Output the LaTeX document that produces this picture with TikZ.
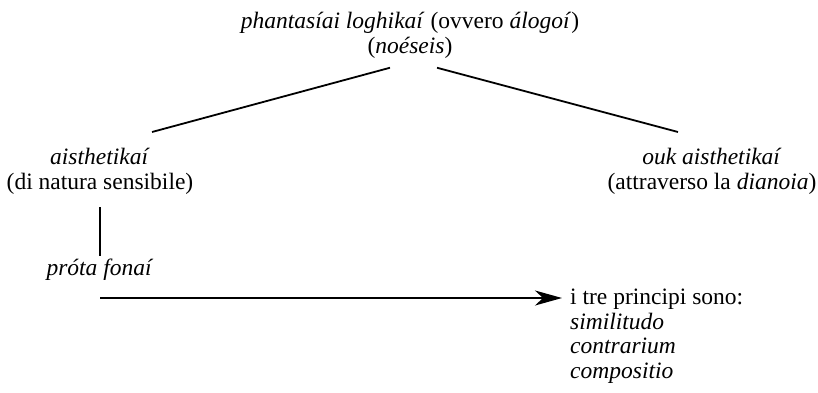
\documentclass[tikz,border=0pt]{standalone}
\usepackage{fontspec}
\setmainfont{Liberation Serif}
\usetikzlibrary{arrows.meta}

\begin{document}
\begin{tikzpicture}[x=1pt, y=-1pt,
        every node/.style={inner sep=0pt, font=\fontsize{23.5}{24.5}\selectfont},
        branch/.style={line width=1.8pt},
        arr/.style={line width=1.8pt, -{Stealth[length=27pt, width=15pt, inset=8pt]}}]
        \useasboundingbox (0,0) rectangle (818,392);
        % gerarchia delle phantasiai
        \node[anchor=north, align=center](phant) at (410,12){
                \textit{phantasíai loghikaí} (ovvero \textit{álogoí})\\
                (\textit{noéseis})};
        \node[anchor=north, align=center](aisth) at (100,148){
                \textit{aisthetikaí}\\
                (di natura sensibile)};
        \node[anchor=north, align=center](ouk) at (712,148){
                \textit{ouk aisthetikaí}\\
                (attraverso la \textit{dianoia})};
        \node[anchor=base](prota) at (100,275){\textit{próta fonaí}};
        \node[anchor=north west, align=left](tre) at (570,289){
                i tre principi sono:\\
                \textit{similitudo}\\
                \textit{contrarium}\\
                \textit{compositio}};
        \draw[branch] ([xshift=-20pt, yshift=-9.5pt]phant.south) -- ([xshift=52pt, yshift=16pt]aisth.north);
        \draw[branch] ([xshift=27pt, yshift=-9.5pt]phant.south) -- ([xshift=-34pt, yshift=16pt]ouk.north);
        \draw[branch] ([yshift=-13pt]aisth.south) -- ([yshift=2pt]aisth.south |- prota.north);
        \coordinate (arrstart) at ([yshift=-23pt]prota.base);
        \draw[arr] (arrstart) -- ([xshift=-8pt]tre.west |- arrstart);
\end{tikzpicture}
\end{document}
